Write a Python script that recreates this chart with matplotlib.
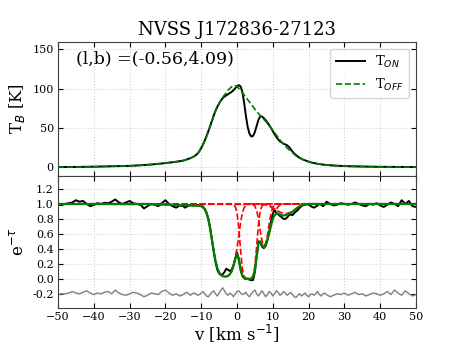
import numpy as np
import matplotlib
matplotlib.use("Agg")
import matplotlib.pyplot as plt

plt.rcParams['font.family'] = 'serif'
plt.rcParams['font.serif'] = ['DejaVu Serif']

# ---------------- velocity grid (km/s) ----------------
v = np.concatenate([np.arange(-50, -15, 1.0),
                    np.arange(-15, 25.5, 0.5),
                    np.arange(26, 51, 1.0)])

# ---------------- emission spectra (K) ----------------
t_on = [0.3, 0.3, 0.3, 0.4, 0.4, 0.4, 0.5, 0.5, 0.6, 0.6, 0.7, 0.8, 0.8, 0.9, 1.0, 1.1, 1.2, 1.3, 1.5, 1.6,
        1.8, 2.0, 2.2, 2.5, 2.8, 3.1, 3.5, 3.9, 4.3, 4.8, 5.3, 5.8, 6.4, 7.0, 7.7,
        8.5, 9.2, 10.0, 10.8, 11.6, 12.6, 13.8, 15.5, 17.5, 20.5, 24.5, 29, 34, 40, 46, 52.5, 59, 66, 72, 77,
        81, 85, 88, 90, 91.5, 93, 94.5, 96, 98, 100.5, 103, 104.5, 103, 96, 82, 65, 51, 42.5, 39, 40,
        45, 53, 60.5, 65, 64.5, 62.5, 60, 57, 53.5, 50, 46, 42, 38.5, 35.5, 33, 31.5, 30, 29, 28, 26,
        23, 20, 17.5, 15.5, 13.5, 12, 10.8, 9.7, 8.8, 7.9, 7.1, 6.4, 5.8, 5.3, 4.8, 4.4, 4.0, 3.7, 3.4, 3.1, 2.9,
        2.5, 2.2, 1.9, 1.7, 1.5, 1.3, 1.2, 1.1, 1.0, 0.9, 0.8, 0.7, 0.7, 0.6, 0.6, 0.5, 0.5, 0.5, 0.4, 0.4,
        0.4, 0.3, 0.3, 0.3, 0.3]
t_off = [0.3, 0.3, 0.3, 0.4, 0.4, 0.4, 0.5, 0.5, 0.6, 0.6, 0.7, 0.8, 0.8, 0.9, 1.0, 1.1, 1.2, 1.3, 1.5, 1.6,
         1.8, 2.0, 2.2, 2.5, 2.8, 3.1, 3.5, 3.9, 4.3, 4.8, 5.3, 5.8, 6.4, 7.0, 7.7,
         8.5, 9.2, 10.0, 10.8, 11.6, 12.6, 13.8, 15.5, 17.5, 20.5, 24, 28.5, 33.5, 39, 45, 51.5, 58, 65, 71.5, 77,
         81.5, 85.5, 89, 92, 95, 98, 100.5, 102.5, 103.5, 104, 103, 100.5, 97.5, 95, 92, 89, 86, 83, 80, 77,
         74, 71, 68.5, 66, 63.5, 61, 58.5, 56, 53, 50, 47, 44, 41, 38, 35, 32, 29.5, 27, 24.5, 22.5,
         20.5, 18.5, 16.5, 14.5, 13, 11.8, 10.6, 9.6, 8.7, 7.9, 7.1, 6.4, 5.8, 5.3, 4.8, 4.4, 4.0, 3.7, 3.4, 3.1, 2.9,
         2.5, 2.2, 1.9, 1.7, 1.5, 1.3, 1.2, 1.1, 1.0, 0.9, 0.8, 0.7, 0.7, 0.6, 0.6, 0.5, 0.5, 0.5, 0.4, 0.4,
         0.4, 0.3, 0.3, 0.3, 0.3]

# ---------------- absorption: data, fit, residual ----------------
etau = [0.99, 0.985, 1.0, 1.01, 1.02, 1.05, 1.03, 1.04, 1.0, 0.97, 0.985, 1.01, 1.0, 1.015, 1.01, 1.03, 1.06, 1.02, 1.0, 1.02,
        1.04, 1.01, 1.0, 0.99, 0.94, 0.97, 1.0, 0.99, 0.97, 1.01, 1.05, 1.0, 0.97, 0.95, 0.98,
        0.97, 0.95, 0.965, 0.98, 0.985, 0.975, 0.98, 0.99, 0.985, 0.98, 0.975, 0.96, 0.93, 0.88, 0.8, 0.68, 0.52, 0.36, 0.22, 0.12,
        0.07, 0.055, 0.06, 0.09, 0.135, 0.12, 0.105, 0.12, 0.18, 0.27, 0.35, 0.27, 0.13, 0.04, 0.005, 0.0, -0.005, -0.01, -0.02, -0.015,
        0.09, 0.32, 0.5, 0.49, 0.43, 0.41, 0.44, 0.52, 0.63, 0.76, 0.87, 0.92, 0.88, 0.86, 0.84, 0.82, 0.8, 0.8, 0.82, 0.85,
        0.86, 0.85, 0.88, 0.9, 0.92, 0.95, 0.97, 0.985, 0.995, 1.0, 0.99, 0.975, 0.96, 0.95, 0.965, 0.98, 1.0, 0.99, 0.97, 0.99, 1.03,
        1.0, 0.98, 0.99, 1.01, 1.0, 0.99, 1.0, 1.02, 1.0, 0.98, 0.97, 1.0, 0.99, 1.01, 0.98, 0.96, 0.99, 1.02, 1.0, 0.97,
        1.05, 1.0, 1.04, 0.97, 0.96]
efit = [1.0] * 26 + [0.998, 0.997, 0.995, 0.993, 0.99, 0.99, 0.988, 0.986, 0.985,
        0.984, 0.983, 0.982, 0.981, 0.98, 0.98, 0.979, 0.978, 0.977, 0.975, 0.97, 0.955, 0.93, 0.875, 0.79, 0.67, 0.52, 0.37, 0.24, 0.145,
        0.085, 0.05, 0.035, 0.03, 0.03, 0.04, 0.06, 0.1, 0.17, 0.26, 0.33, 0.26, 0.12, 0.04, 0.01, 0.0, 0.0, 0.0, 0.0, 0.02,
        0.12, 0.3, 0.47, 0.5, 0.45, 0.42, 0.45, 0.52, 0.61, 0.71, 0.8, 0.85, 0.87, 0.87, 0.86, 0.85, 0.845, 0.85, 0.86, 0.87,
        0.88, 0.895, 0.915, 0.935, 0.955, 0.97, 0.98, 0.988, 0.993, 0.997] + [1.0] * 11 + [1.0] * 25
resid = [-0.21, -0.2, -0.2, -0.19, -0.17, -0.19, -0.2, -0.18, -0.16, -0.19, -0.21, -0.19, -0.2, -0.18, -0.17, -0.2, -0.15, -0.19, -0.21, -0.22,
         -0.2, -0.18, -0.19, -0.21, -0.24, -0.22, -0.19, -0.2, -0.21, -0.17, -0.15, -0.19, -0.22, -0.2, -0.23,
         -0.21, -0.19, -0.18, -0.2, -0.22, -0.2, -0.19, -0.2, -0.22, -0.21, -0.19, -0.17, -0.2, -0.23, -0.24, -0.21, -0.18, -0.16, -0.2, -0.23,
         -0.19, -0.15, -0.12, -0.16, -0.2, -0.22, -0.19, -0.21, -0.24, -0.2, -0.17, -0.16, -0.19, -0.21, -0.2, -0.18, -0.22, -0.24, -0.2, -0.17,
         -0.15, -0.2, -0.23, -0.19, -0.16, -0.2, -0.24, -0.21, -0.17, -0.19, -0.23, -0.2, -0.16, -0.18, -0.22, -0.2, -0.17, -0.19, -0.22, -0.2,
         -0.18, -0.21, -0.24, -0.25, -0.22, -0.2, -0.23, -0.21, -0.19, -0.22, -0.24, -0.21, -0.2, -0.22, -0.2, -0.17, -0.21, -0.23, -0.2, -0.19, -0.21,
         -0.24, -0.22, -0.2, -0.21, -0.19, -0.22, -0.2, -0.18, -0.21, -0.2, -0.23, -0.21, -0.19, -0.2, -0.22, -0.2, -0.17, -0.21, -0.15, -0.19,
         -0.22, -0.16, -0.2, -0.23, -0.21]

# ---------------- individual gaussian components (exp(-tau_i)) ----------------
comp_a_v = [-50, -10, -9.5, -9, -8.5, -8, -7.5, -7, -6.5, -6, -5.5, -5, -4.5, -4, -3.5, -3, -2.5, -2, -1.5, -1,
            -0.5, 0, 0.5, 1, 1.5, 2, 2.5, 3, 3.5, 50]
comp_a = [1.0, 0.987, 0.971, 0.942, 0.888, 0.80, 0.68, 0.53, 0.378, 0.245, 0.148, 0.087, 0.054, 0.037, 0.031, 0.031,
          0.040, 0.059, 0.097, 0.164, 0.27, 0.41, 0.57, 0.75, 0.88, 0.95, 0.98, 0.995, 1.0, 1.0]
comp_b_v = [-50, -1.5, -1, -0.5, 0, 0.5, 1, 1.5, 2, 2.5, 3, 3.5, 4, 4.5, 5, 5.5, 6, 6.5, 7, 7.5, 8, 50]
comp_b = [1.0, 0.999, 0.992, 0.967, 0.88, 0.683, 0.383, 0.134, 0.031, 0.007, 0.003, 0.003, 0.009, 0.042, 0.17, 0.44,
          0.73, 0.91, 0.975, 0.995, 1.0, 1.0]
comp_c_v = [-50, 4.5, 5, 5.5, 6, 6.5, 7, 7.5, 8, 8.5, 9, 9.5, 10, 10.5, 11, 50]
comp_c = [1.0, 0.995, 0.97, 0.91, 0.80, 0.64, 0.50, 0.443, 0.47, 0.58, 0.735, 0.87, 0.955, 0.988, 0.997, 1.0]
comp_d_v = [-50, 8.5, 9, 9.5, 10, 10.5, 11, 11.5, 12, 12.5, 50]
comp_d = [1.0, 0.997, 0.986, 0.963, 0.934, 0.92, 0.934, 0.963, 0.986, 0.997, 1.0]
comp_e_v = [-50, 7, 8, 9, 10, 11, 12, 13, 13.5, 14, 15, 16, 17, 18, 19, 20, 21, 50]
comp_e = [1.0, 0.996, 0.988, 0.973, 0.949, 0.919, 0.89, 0.873, 0.87, 0.873, 0.89, 0.919, 0.949, 0.973, 0.988, 0.995,
          0.999, 1.0]

for s in (t_on, t_off, etau, efit, resid):
    assert len(s) == len(v), (len(s), len(v))

W, H = 463, 347
fig = plt.figure(figsize=(W / 100, H / 100), dpi=100)
left, right = 58 / W, 416 / W
ax1 = fig.add_axes([left, 1 - 175.5 / H, right - left, (175.5 - 42) / H])
ax2 = fig.add_axes([left, 1 - 308 / H, right - left, (308 - 175.5) / H])

# ---- top panel ----
ax1.plot(v, t_on, color='k', lw=1.4, label='T$_{ON}$')
ax1.plot(v, t_off, color='green', lw=1.2, ls='--', label='T$_{OFF}$')
ax1.set_xlim(-50, 50)
ax1.set_ylim(-10.5, 159.5)
ax1.set_yticks([0, 50, 100, 150])
ax1.set_xticks(np.arange(-50, 51, 10))
ax1.tick_params(labelbottom=False)
ax1.set_ylabel('T$_B$ [K]', fontsize=12)
ax1.set_title('NVSS J172836-27123', fontsize=13, pad=5)
ax1.text(0.05, 0.87, '(l,b) =(-0.56,4.09)', transform=ax1.transAxes, fontsize=12.5, va='center')
ax1.legend(loc='upper right', fontsize=9.5, handlelength=2.2, borderaxespad=0.5)

# ---- bottom panel ----
ax2.plot(v, etau, color='k', lw=1.4)
for cv, ce in [(comp_a_v, comp_a), (comp_b_v, comp_b), (comp_c_v, comp_c), (comp_d_v, comp_d), (comp_e_v, comp_e)]:
    ax2.plot(cv, ce, color='red', ls='--', lw=1.2)
ax2.plot(v, efit, color='green', lw=1.6)
ax2.plot(v, resid, color='gray', lw=1.0)
ax2.set_xlim(-50, 50)
ax2.set_ylim(-0.39, 1.38)
ax2.set_yticks([-0.2, 0.0, 0.2, 0.4, 0.6, 0.8, 1.0, 1.2])
ax2.set_xticks(np.arange(-50, 51, 10))
ax2.yaxis.set_major_formatter(matplotlib.ticker.FormatStrFormatter('%.1f'))
ax2.set_ylabel(r'e$^{-\tau}$', fontsize=12)
ax2.set_xlabel('v [km s$^{-1}$]', fontsize=12, labelpad=0)

for ax in (ax1, ax2):
    ax.grid(True, ls=':', color='lightgray', lw=0.8)
    ax.tick_params(direction='in', top=True, right=True, labelsize=8, pad=3)
    for sp in ax.spines.values():
        sp.set_color('0.25')

fig.align_ylabels([ax1, ax2])
fig.savefig('out.png', dpi=100)
